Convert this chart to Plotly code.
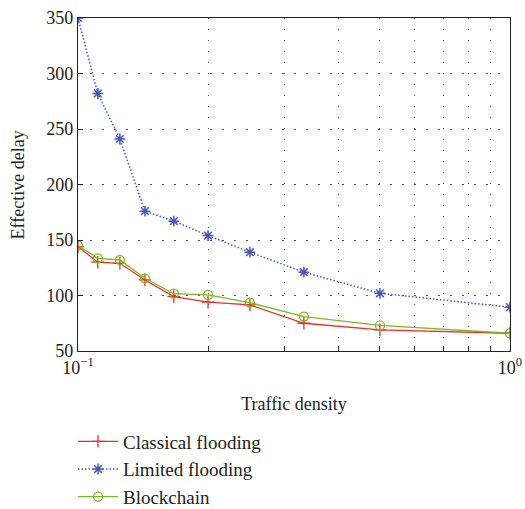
import plotly.graph_objects as go

traffic_density = [1/10, 1/9, 1/8, 1/7, 1/6, 1/5, 1/4, 1/3, 1/2, 1.0]
classical = [144, 130, 129, 114, 99, 94, 91.5, 75, 69, 66]
limited = [350, 282, 241, 176, 167, 154, 139, 121, 102, 89.5]
blockchain = [145, 133.5, 132, 115.5, 101.6, 100.5, 93.5, 81, 73, 66]

x_tickvals = [0.1, 0.2, 0.3, 0.4, 0.5, 0.6, 0.7, 0.8, 0.9, 1.0]
x_ticktext = ["10<sup>−1</sup>", "", "", "", "", "", "", "", "", "10<sup>0</sup>"]
y_tickvals = [50, 100, 150, 200, 250, 300, 350]
y_title = "Effective delay"
x_title = "Traffic density"

font = "Liberation Serif, Times New Roman, serif"

fig = go.Figure()
fig.add_trace(go.Scatter(x=traffic_density, y=classical, name="Classical flooding",
                         mode="lines+markers",
                         line=dict(color="#e8302a", width=1.3),
                         marker=dict(symbol="cross-thin-open", size=9,
                                     line=dict(color="#e8302a", width=1.3))))
fig.add_trace(go.Scatter(x=traffic_density, y=limited, name="Limited flooding",
                         mode="lines+markers",
                         line=dict(color="#4a55b8", width=1.5, dash="1.5px,2px"),
                         marker=dict(symbol="asterisk-open", size=9, color="#4a55b8",
                                     line=dict(color="#4a55b8", width=1.5))))
fig.add_trace(go.Scatter(x=traffic_density, y=blockchain, name="Blockchain",
                         mode="lines+markers",
                         line=dict(color="#7cb81e", width=1.3),
                         marker=dict(symbol="circle-open", size=9, color="#7cb81e",
                                     line=dict(color="#7cb81e", width=1.3))))

fig.update_layout(
    width=525, height=509,
    margin=dict(l=78, r=15, t=18, b=158, autoexpand=False),
    paper_bgcolor="white", plot_bgcolor="white",
    font=dict(family=font, size=18, color="#222"),
    xaxis=dict(type="log", range=[-1, 0], tickvals=x_tickvals, ticktext=x_ticktext,
               ticks="inside", ticklen=5, tickcolor="#222", automargin=True,
               tickfont=dict(size=18),
               showline=True, mirror=True, linecolor="#222", linewidth=1.3,
               showgrid=True, gridcolor="#555", griddash="1px,10px", gridwidth=1,
               zeroline=False,
               title=dict(text=x_title, standoff=20, font=dict(size=18))),
    yaxis=dict(range=[50, 350], tickvals=y_tickvals,
               ticks="inside", ticklen=5, tickcolor="#222", automargin=False,
               tickfont=dict(size=18),
               showline=True, mirror=True, linecolor="#222", linewidth=1.3,
               showgrid=True, gridcolor="#555", griddash="2px,10px", gridwidth=1,
               zeroline=False),
    legend=dict(x=0.139, y=0.17, xref="container", yref="container",
                xanchor="left", yanchor="top",
                font=dict(family=font, size=19), tracegroupgap=0,
                itemwidth=40, bgcolor="rgba(0,0,0,0)"),
    showlegend=True,
    annotations=[dict(text=y_title, textangle=-90, xref="paper", yref="paper",
                      x=-0.139, y=0.5, xanchor="center", yanchor="middle",
                      showarrow=False, font=dict(family=font, size=18, color="#222"))],
)

fig.write_html("out.html", config={"displayModeBar": False},
               post_script="document.body.style.margin='0';")
